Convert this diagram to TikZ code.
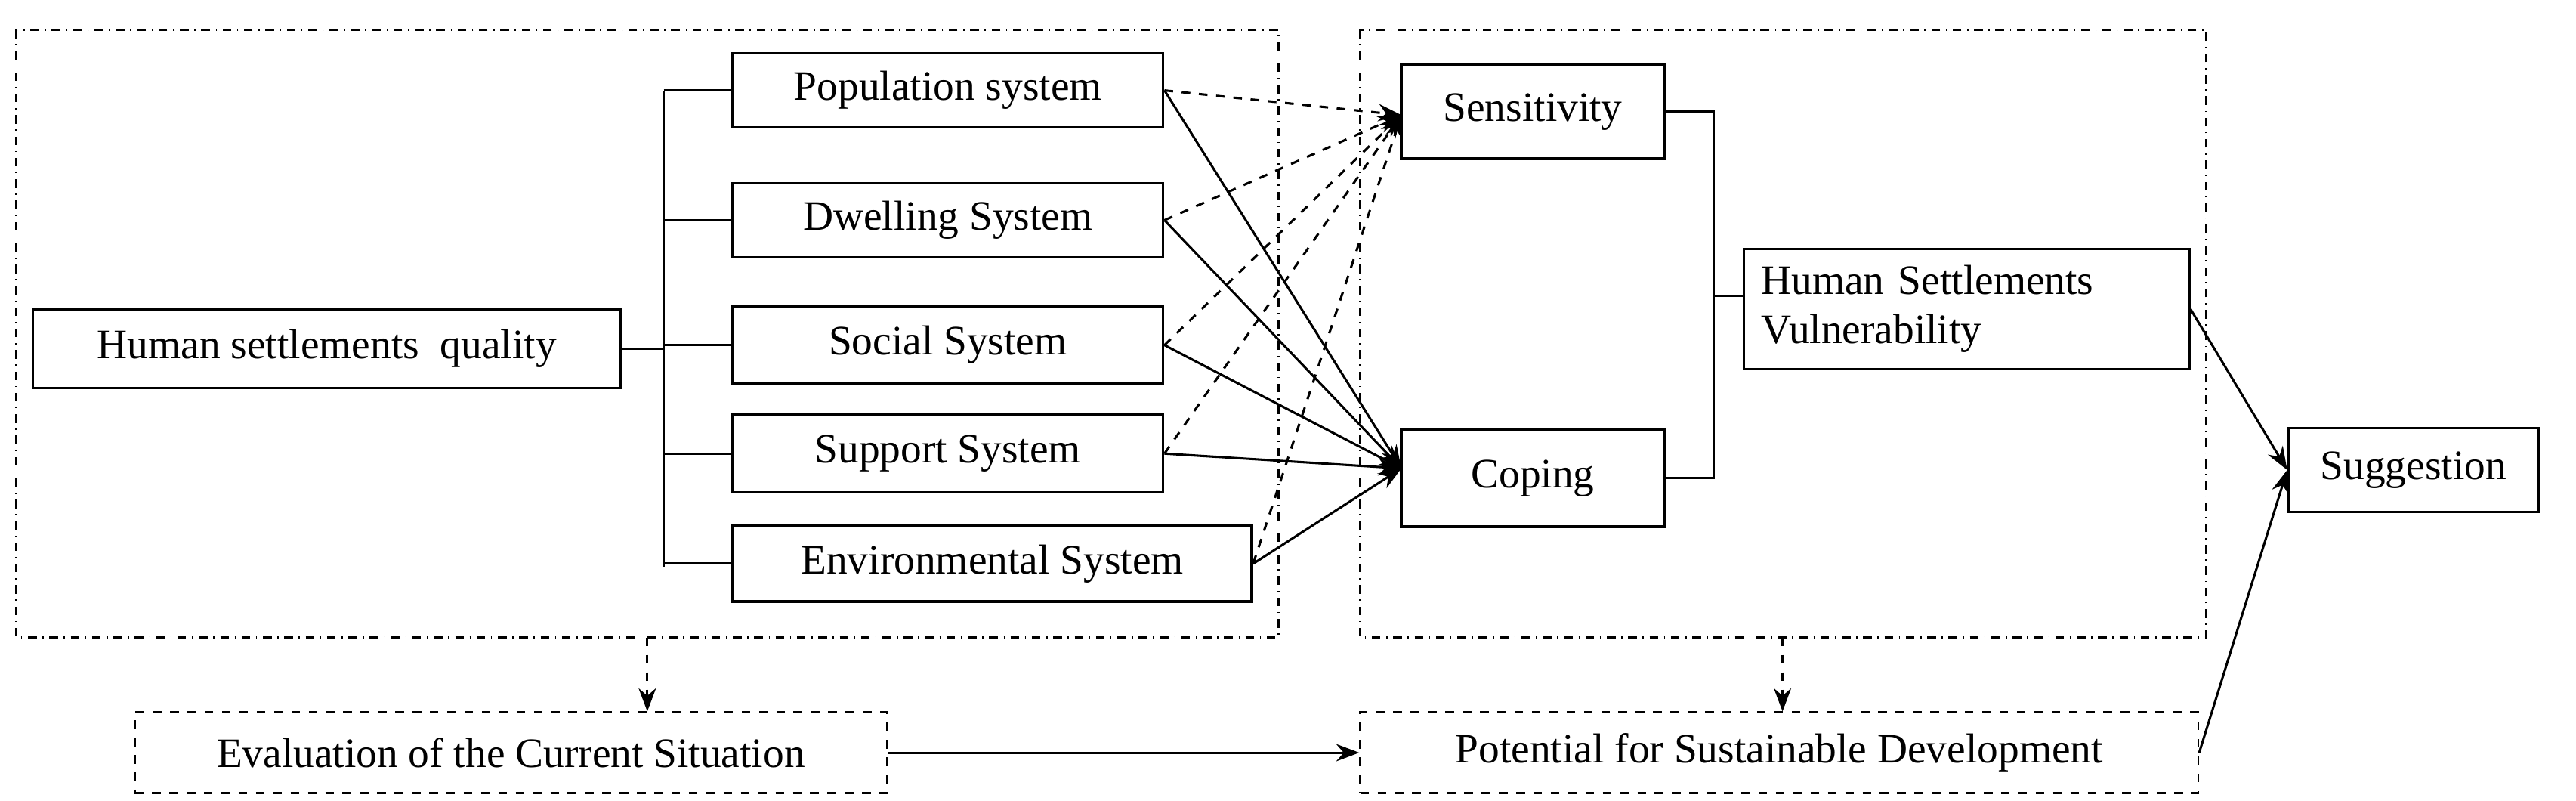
\documentclass[tikz,border=0pt]{standalone}
\usepackage{fontspec}
\setmainfont{Liberation Serif}
\usetikzlibrary{arrows.meta}
\begin{document}
\begin{tikzpicture}[x=0.02cm,y=-0.02cm,
 bx/.style={draw,line width=0.9pt,inner sep=0pt},
 db/.style={draw,dashed,line width=0.7pt,inner sep=0pt},
 grp/.style={draw,dash dot,line width=0.8pt},
 txt/.style={font=\fontsize{14.5}{17}\selectfont},
 ar/.style={-{Stealth[length=8pt,width=6pt]},line width=0.8pt},
 dar/.style={ar,dashed}]
\useasboundingbox (0,0) rectangle (1568,487);
\draw[grp] (10,18) rectangle (778,388);
\draw[grp] (828,18) rectangle (1343,388);
\node[bx,minimum width=358*0.02cm,minimum height=48*0.02cm,txt] (hq) at (199,212) {Human settlements\ \ quality};
\node[bx,minimum width=262*0.02cm,minimum height=45*0.02cm,txt] (pop) at (577,55) {Population system};
\node[bx,minimum width=262*0.02cm,minimum height=45*0.02cm,txt] (dw) at (577,134) {Dwelling System};
\node[bx,minimum width=262*0.02cm,minimum height=47*0.02cm,txt] (so) at (577,210) {Social System};
\node[bx,minimum width=262*0.02cm,minimum height=47*0.02cm,txt] (su) at (577,276) {Support System};
\node[bx,minimum width=316*0.02cm,minimum height=46*0.02cm,txt] (en) at (604,343) {Environmental System};
\node[bx,minimum width=160*0.02cm,minimum height=57*0.02cm,txt] (se) at (933,68) {Sensitivity};
\node[bx,minimum width=160*0.02cm,minimum height=59*0.02cm,txt] (co) at (933,291) {Coping};
\node[bx,minimum width=271*0.02cm,minimum height=73*0.02cm,txt,align=left,text width=250*0.02cm] (hv) at (1197,188) {Human Settlements\\Vulnerability};
\node[bx,minimum width=152*0.02cm,minimum height=51*0.02cm,txt] (sg) at (1469,286) {Suggestion};
\node[db,minimum width=458*0.02cm,minimum height=49*0.02cm,txt] (ev) at (311,458) {Evaluation of the Current Situation};
\node[db,minimum width=510*0.02cm,minimum height=49*0.02cm,txt] (po) at (1083,458) {Potential for Sustainable Development};
\coordinate (bt) at (404,55); \coordinate (bb) at (404,345);
\draw[line width=0.8pt] (hq.east) -- (404,212);
\draw[line width=0.8pt] (bt) -- (bb);
\foreach \n in {pop,dw,so,su,en} \draw[line width=0.8pt] (404,0 |- \n.west) -- (\n.west);
\coordinate (sin) at (853,70); \coordinate (cin) at (853,285);
\foreach \n in {pop,dw,so,su,en} {\draw[dar] (\n.east) -- (sin); \draw[ar] (\n.east) -- (cin);}
\draw[line width=0.8pt] (se.east) -- (1043,68) -- (1043,291) -- (co.east);
\draw[line width=0.8pt] (1043,180) -- (hv.west |- 0,180);
\draw[ar] (hv.east) -- (sg.west);
\draw[ar] (po.east) -- (sg.west);
\draw[ar] (ev) -- (po);
\draw[dar] (394,388) -- (ev.north -| 394,0);
\draw[dar] (1085,388) -- (po.north -| 1085,0);
\end{tikzpicture}
\end{document}
